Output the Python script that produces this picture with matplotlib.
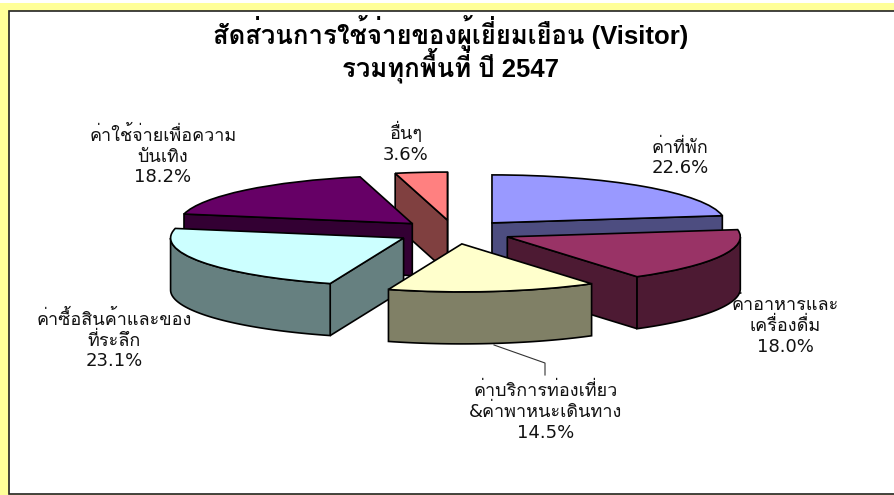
import numpy as np
import matplotlib
matplotlib.use('Agg')
import matplotlib.pyplot as plt
from matplotlib.patches import Polygon, Rectangle

# slices, clockwise from the top
labels = ['ค่าที่พัก', 'ค่าอาหารและ\nเครื่องดื่ม', 'ค่าบริการท่องเที่ยว\n&ค่าพาหนะเดินทาง',
          'ค่าซื้อสินค้าและของ\nที่ระลึก', 'ค่าใช้จ่ายเพื่อความ\nบันเทิง', 'อื่นๆ']
values = [22.6, 18.0, 14.5, 23.1, 18.2, 3.6]
colors = ['#9999FF', '#993366', '#FFFFCC', '#CCFFFF', '#660066', '#FF8080']
side_colors = ['#4D4D80', '#4D1A33', '#808066', '#668080', '#330033', '#804040']
title_lines = ['สัดส่วนการใช้จ่ายของผู้เยี่ยมเยือน (Visitor)', 'รวมทุกพื้นที่ ปี 2547']

# label centres in pixels
label_xy = [(680, 158), (785, 326), (546, 412), (114, 340), (163, 156), (406, 143)]
draw_order = [5, 0, 4, 3, 1, 2]

W, H = 895, 495
rx, ry = 233, 48
cx, cy = 454, 232
depth = 52 / ry

plt.rcParams['font.family'] = ['DejaVu Sans', 'Loma', 'Noto Sans Thai']
fig = plt.figure(figsize=(W / 100, H / 100), dpi=100, facecolor='white')

# yellow band and white chart area, in figure pixels
fig.add_artist(Rectangle((0, 0), 1, 1 - 3 / H, transform=fig.transFigure,
                         fc='#FFFF99', ec='none', zorder=-2))
fig.add_artist(Rectangle((9 / W, 1.5 / H), 1, 1 - 12 / H, transform=fig.transFigure,
                         fc='white', ec='#222222', lw=1.2, zorder=-1))

ax = fig.add_axes([0, 0, 1, 1], zorder=1)
wedges, _ = ax.pie(values, explode=[0.25] * 6, startangle=90, counterclock=False, colors=colors,
                   wedgeprops={'ec': 'black', 'lw': 1.2})
ax.set_aspect('auto')
ax.set_xlim(-cx / rx, (W - cx) / rx)
ax.set_ylim((cy - H) / ry, cy / ry)
ax.patch.set_alpha(0)


def rim_point(center, ang):
    return center[0] + np.cos(np.radians(ang)), center[1] + np.sin(np.radians(ang))


z = 2
for i in draw_order:
    w = wedges[i]
    c = w.center
    t1, t2 = w.theta1, w.theta2

    # straight cut faces that turn toward the viewer
    cuts = []
    if np.cos(np.radians(t1)) > 0:
        cuts.append(t1)
    if np.cos(np.radians(t2)) < 0:
        cuts.append(t2)
    for t in cuts:
        x, y = rim_point(c, t)
        ax.add_patch(Polygon([c, (x, y), (x, y - depth), (c[0], c[1] - depth)],
                             fc=side_colors[i], ec='black', lw=1.2, zorder=z))

    # outer rim, only the front part
    a = np.linspace(t1, t2, 80)
    a = a[np.sin(np.radians(a)) < 0]
    if len(a) > 1:
        rim_x, rim_y = rim_point(c, a)
        rim = list(zip(rim_x, rim_y)) + list(zip(rim_x[::-1], rim_y[::-1] - depth))
        ax.add_patch(Polygon(rim, fc=side_colors[i], ec='black', lw=1.2, zorder=z))

    w.set_zorder(z + 0.5)
    z += 1

# leader line of the tourism slice
lx = (np.array([494, 545, 545]) - cx) / rx
ly = (cy - np.array([345, 363, 375])) / ry
ax.plot(lx, ly, color='#333333', lw=0.8, zorder=1)

for line, y in zip(title_lines, [33, 66]):
    fig.text(450.5 / W, 1 - y / H, line, ha='center', va='center', fontsize=18.5, fontweight='bold',
             family=['Liberation Sans', 'Loma', 'DejaVu Sans'], color='black')
for s, v, (x, y) in zip(labels, values, label_xy):
    fig.text(x / W, 1 - y / H, f'{s}\n{v:.1f}%', ha='center', va='center', fontsize=13,
             color='#111111', linespacing=1.2)

fig.savefig('out.png', dpi=100, facecolor=fig.get_facecolor())
